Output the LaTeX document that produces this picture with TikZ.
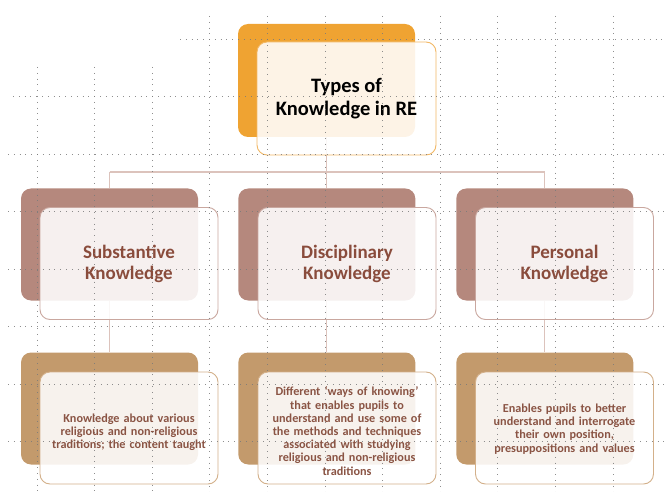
\documentclass[tikz,border=0pt]{standalone}
\usepackage{fontspec}
\setmainfont{Carlito}
\definecolor{orgback}{HTML}{EFA332}
\definecolor{orgline}{HTML}{F2B865}
\definecolor{brnback}{HTML}{B5887D}
\definecolor{brnline}{HTML}{C9A79F}
\definecolor{tanback}{HTML}{C39A6C}
\definecolor{tanline}{HTML}{D3B08A}
\definecolor{conn}{HTML}{DCC3BC}
\definecolor{midtext}{HTML}{8A4C3C}
\definecolor{lowtext}{HTML}{8A5444}
\definecolor{gridc}{HTML}{7A7A7A}
\tikzset{
  backbox/.style={rounded corners=10pt, minimum width=177pt, minimum height=112pt, inner sep=0pt, draw=none},
  frontbox/.style={rounded corners=10pt, minimum width=178pt, minimum height=112pt, inner sep=0pt, fill=white, fill opacity=0.88, text opacity=1, line width=0.9pt},
  topfont/.style={font=\bfseries\fontsize{20.5}{23.5}\selectfont, text=black, align=center},
  midfont/.style={font=\bfseries\fontsize{19}{21}\selectfont, text=midtext, align=center},
  lowfont/.style={font=\bfseries\fontsize{12.2}{13.2}\selectfont, text=lowtext, align=center, text width=172pt},
  connector/.style={draw=conn, line width=1.1pt},
  griddots/.style={draw=gridc, line width=0.9pt, dash pattern=on 0.9pt off 4.9pt, draw opacity=0.85}
}
\begin{document}
\begin{tikzpicture}[x=1pt, y=-1pt]
\useasboundingbox (0,0) rectangle (667,492);
% back boxes
\node[backbox, fill=orgback, minimum height=113pt] (tb) at (326.5,80.5) {};
\node[backbox, fill=brnback] (b1) at (109.5,244.5) {};
\node[backbox, fill=brnback] (b2) at (326.8,244.5) {};
\node[backbox, fill=brnback] (b3) at (544.8,244.5) {};
\node[backbox, fill=tanback] (c1) at (109.5,408.5) {};
\node[backbox, fill=tanback] (c2) at (326.8,408.5) {};
\node[backbox, fill=tanback] (c3) at (544.8,408.5) {};
% connectors
\coordinate (hj) at (326.5,172);
\coordinate (hl) at (109.5,172);
\coordinate (hr) at (544.8,172);
\draw[connector] (tb.south) -- (hj);
\draw[connector] (hl) -- (hr);
\draw[connector] (hl) -- (b1.north);
\draw[connector] (hj -| b2.north) -- (b2.north);
\draw[connector] (hr) -- (b3.north);
\draw[connector] (b1.south) -- (c1.north);
\draw[connector] (b2.south) -- (c2.north);
\draw[connector] (b3.south) -- (c3.north);
% front boxes
\node[frontbox, draw=orgline, minimum width=179pt, minimum height=113pt, topfont] (tf) at (346.5,98.5) {Types of\\Knowledge in RE};
\node[frontbox, draw=brnline, midfont] (f1) at (129,263.5) {Substantive\\Knowledge};
\node[frontbox, draw=brnline, midfont] (f2) at (347,263.5) {Disciplinary\\Knowledge};
\node[frontbox, draw=brnline, midfont] (f3) at (564.5,263.5) {Personal\\Knowledge};
\node[frontbox, draw=tanline] (g1) at (129,428) {};
\node[frontbox, draw=tanline] (g2) at (347,428) {};
\node[frontbox, draw=tanline] (g3) at (564.5,428) {};
% grid
\foreach \gx in {37,94.5,152.3} {\draw[griddots] (\gx,67) -- (\gx,492);}
\foreach \gx in {209.8,267.4,325,382.6,440.2,497.8,555.4,613} {\draw[griddots] (\gx,16) -- (\gx,492);}
\draw[griddots] (180,39) -- (667,39);
\draw[griddots] (13,96.5) -- (667,96.5);
\foreach \gy in {154,211.5,269,326.5,384,441.5} {\draw[griddots] (8,\gy) -- (667,\gy);}
% lower texts
\node[lowfont] (l1) at ([yshift=-4pt]g1.center) {Knowledge about various\\religious and non-religious\\traditions; the content taught};
\node[lowfont] (l2) at ([yshift=-3pt]g2.center) {Different ‘ways of knowing’\\that enables pupils to\\understand and use some of\\the methods and techniques\\associated with studying\\religious and non-religious\\traditions};
\node[lowfont] (l3) at ([yshift=-1pt]g3.center) {Enables pupils to better\\understand and interrogate\\their own position,\\presuppositions and values};
\end{tikzpicture}
\end{document}
